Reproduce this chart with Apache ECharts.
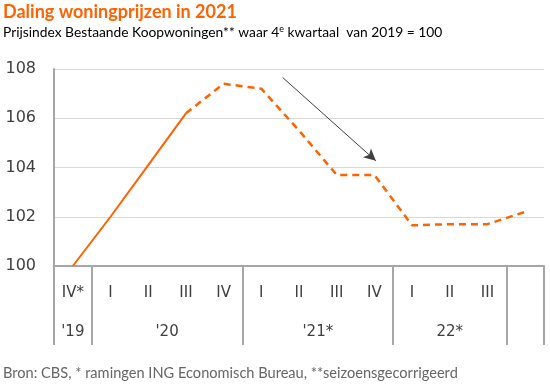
<!DOCTYPE html>
<html><head><meta charset="utf-8">
<script src="https://cdn.jsdelivr.net/npm/echarts@6/dist/echarts.min.js"></script>
<style>html,body{margin:0;padding:0;background:#fff}#c{width:550px;height:385px}</style>
</head><body><div id="c"></div>
<script>
const quarters = ["IV*","I","II","III","IV","I","II","III","IV","I","II","III",""];
const realised = [100, 102.0, 104.1, 106.2, null, null, null, null, null, null, null, null, null];
const forecast = [null, null, null, 106.2, 107.4, 107.2, 105.5, 103.7, 103.7, 101.65, 101.7, 101.7, 102.2];
const yearLabels = ["'19", "'20", "'21*", "22*"];
const yearCenters = [0, 2.5, 6.5, 10];
const groupBoundaries = [0, 1, 5, 9, 12];
const yTicks = [100, 102, 104, 106, 108];
const arrowFrom = [5.57, 107.65];
const arrowTo = [8.04, 104.27];

const ORANGE = '#FF6200';
const GREY = '#a6a6a6';
const FONT = 'Lato';

const chart = echarts.init(document.getElementById('c'), null, {renderer: 'canvas'});
chart.setOption({
  animation: false,
  backgroundColor: '#fff',
  graphic: [
    {type: 'text', left: 3, top: 3, style: {text: 'Daling woningprijzen in 2021', fill: ORANGE, font: 'bold 18px ' + FONT}},
    {type: 'text', left: 3, top: 25, style: {
      text: '{n|Prijsindex Bestaande Koopwoningen** waar 4}{s|e}{n| kwartaal  van 2019 = 100}',
      rich: {n: {fontFamily: FONT, fontSize: 13.8, color: '#222'}, s: {fontFamily: FONT, fontSize: 9, color: '#222', verticalAlign: 'top', padding: [0,0,6,0]}}
    }},
    {type: 'text', left: 3, top: 366, style: {text: 'Bron: CBS, * ramingen ING Economisch Bureau, **seizoensgecorrigeerd', fill: '#666', font: '14.6px ' + FONT}}
  ],
  grid: {left: 54, right: 6, top: 69, bottom: 119, containLabel: false},
  xAxis: [
    {
      type: 'category', data: quarters, boundaryGap: true, position: 'bottom',
      axisLine: {show: true, lineStyle: {color: GREY, width: 2}},
      axisTick: {show: true, length: 79, lineStyle: {color: GREY, width: 2},
        interval: function (i) { return groupBoundaries.indexOf(i) >= 0; }},
      axisLabel: {interval: 0, margin: 20, color: '#404040', fontSize: 15, fontFamily: 'DejaVu Sans'},
      splitLine: {show: false}
    },
    {
      type: 'value', min: -0.5, max: 12.5, interval: 0.5, position: 'bottom',
      axisLine: {show: false}, axisTick: {show: false}, splitLine: {show: false},
      axisLabel: {margin: 59, color: '#404040', fontSize: 15, fontFamily: 'DejaVu Sans', showMinLabel: true, showMaxLabel: true,
        formatter: function (v) { const k = yearCenters.indexOf(v); return k >= 0 ? yearLabels[k] : ''; }}
    }
  ],
  yAxis: {
    type: 'value', min: yTicks[0], max: yTicks[yTicks.length - 1], interval: 2,
    axisLine: {show: true, onZero: false, lineStyle: {color: GREY, width: 2}},
    axisTick: {show: false},
    axisLabel: {margin: 18, color: '#404040', fontSize: 16, fontFamily: 'DejaVu Sans'},
    splitLine: {show: true, lineStyle: {color: '#d9d9d9', width: 1}}
  },
  series: [
    {type: 'line', data: realised, xAxisIndex: 0, symbol: 'none', lineStyle: {color: ORANGE, width: 2}, connectNulls: false, z: 3},
    {type: 'line', data: forecast, xAxisIndex: 0, symbol: 'none', lineStyle: {color: ORANGE, width: 2.5, type: [7, 5]}, z: 3},
    {type: 'line', data: [], xAxisIndex: 1, symbol: 'none', z: 4,
      markLine: {silent: true, symbol: ['none', 'arrow'], symbolSize: [9, 12],
        lineStyle: {color: '#404040', width: 1, type: 'solid'}, label: {show: false},
        data: [[{coord: arrowFrom}, {coord: arrowTo}]]}}
  ]
});
</script></body></html>
